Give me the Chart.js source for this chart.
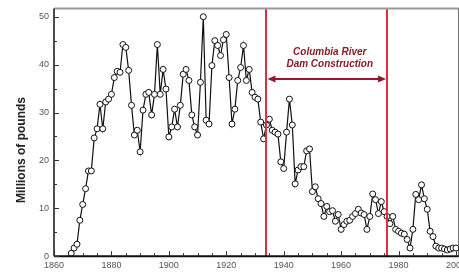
<!DOCTYPE html>
<html>
<head>
<meta charset="utf-8">
<script src="https://cdn.jsdelivr.net/npm/chart.js@4"></script>
<style>
  html, body { margin: 0; padding: 0; background: #fff; overflow: hidden; }
  #wrap { width: 470px; height: 275px; }
</style>
</head>
<body>
<div id="wrap"><canvas id="chart" width="470" height="275"></canvas></div>
<script>
// Columbia River landings, millions of pounds
const years = [
  1866, 1867, 1868, 1869, 1870, 1871, 1872, 1873, 1874, 1875,
  1876, 1877, 1878, 1879, 1880, 1881, 1882, 1883, 1884, 1885,
  1886, 1887, 1888, 1889, 1890, 1891, 1892, 1893, 1894, 1895,
  1896, 1897, 1898, 1899, 1900, 1901, 1902, 1903, 1904, 1905,
  1906, 1907, 1908, 1909, 1910, 1911, 1912, 1913, 1914, 1915,
  1916, 1917, 1918, 1919, 1920, 1921, 1922, 1923, 1924, 1925,
  1926, 1927, 1928, 1929, 1930, 1931, 1932, 1933, 1934, 1935,
  1936, 1937, 1938, 1939, 1940, 1941, 1942, 1943, 1944, 1945,
  1946, 1947, 1948, 1949, 1950, 1951, 1952, 1953, 1954, 1955,
  1956, 1957, 1958, 1959, 1960, 1961, 1962, 1963, 1964, 1965,
  1966, 1967, 1968, 1969, 1970, 1971, 1972, 1973, 1974, 1975,
  1976, 1977, 1978, 1979, 1980, 1981, 1982, 1983, 1984, 1985,
  1986, 1987, 1988, 1989, 1990, 1991, 1992, 1993, 1994, 1995,
  1996, 1997, 1998, 1999, 2000
];
const landings = [
  0.6, 1.7, 2.5, 7.5, 10.8, 14.1, 17.8, 17.8, 24.7, 26.6,
  31.7, 26.6, 32.2, 32.8, 33.8, 37.3, 38.6, 38.4, 44.2, 43.6,
  38.8, 31.5, 25.3, 26.3, 21.8, 30.5, 33.8, 34.2, 29.5, 33.8,
  44.2, 33.8, 39.0, 34.9, 24.9, 27.0, 30.7, 27.0, 31.5, 38.0,
  39.0, 36.7, 29.5, 27.0, 25.3, 36.3, 50.0, 28.4, 27.6, 39.8,
  45.0, 44.0, 41.9, 45.2, 46.3, 37.3, 27.6, 30.7, 36.7, 39.4,
  44.0, 36.7, 39.0, 34.2, 33.2, 32.8, 28.0, 24.5, 27.4, 28.6,
  26.3, 25.9, 25.5, 19.7, 18.3, 25.9, 32.8, 27.4, 15.1, 18.0,
  18.7, 18.7, 22.0, 22.4, 13.5, 14.5, 12.0, 11.0, 8.3, 10.4,
  9.3, 9.5, 7.3, 8.7, 5.6, 6.6, 7.3, 7.5, 8.3, 8.9,
  9.8, 9.0, 8.7, 5.6, 8.3, 13.0, 11.8, 8.9, 11.4, 9.3,
  8.3, 6.8, 8.3, 5.6, 5.2, 4.8, 4.6, 3.5, 1.7, 5.6,
  12.9, 11.8, 14.9, 12.0, 9.8, 5.2, 4.1, 2.1, 1.7, 1.7,
  1.5, 1.3, 1.5, 1.7, 1.7
];

const xTicks = [1860, 1880, 1900, 1920, 1940, 1960, 1980, 2000];
const yTicks = [0, 10, 20, 30, 40, 50];

// dam construction period and its label
const damYears = [1934, 1976];
const arrowLevel = 37;
const damLabel = ["Columbia River", "Dam Construction"];
const yTitle = "Millions of pounds";

const decor = {
  id: "decor",
  afterDatasetsDraw(chart) {
    const { ctx, chartArea: a, scales: { x, y } } = chart;
    ctx.save();

    // red vertical lines
    ctx.strokeStyle = "#d9303f";
    ctx.lineWidth = 2;
    damYears.forEach(yr => {
      const px = Math.round(x.getPixelForValue(yr));
      ctx.beginPath();
      ctx.moveTo(px, a.top);
      ctx.lineTo(px, a.bottom);
      ctx.stroke();
    });

    // double arrow
    const x1 = x.getPixelForValue(damYears[0]) + 1;
    const x2 = x.getPixelForValue(damYears[1]) - 1;
    const ay = y.getPixelForValue(arrowLevel);
    ctx.strokeStyle = "#9a1424";
    ctx.fillStyle = "#9a1424";
    ctx.lineWidth = 2;
    ctx.beginPath();
    ctx.moveTo(x1 + 6, ay);
    ctx.lineTo(x2 - 6, ay);
    ctx.stroke();
    ctx.beginPath();
    ctx.moveTo(x1, ay);
    ctx.lineTo(x1 + 8, ay - 3.5);
    ctx.lineTo(x1 + 8, ay + 3.5);
    ctx.closePath();
    ctx.fill();
    ctx.beginPath();
    ctx.moveTo(x2, ay);
    ctx.lineTo(x2 - 8, ay - 3.5);
    ctx.lineTo(x2 - 8, ay + 3.5);
    ctx.closePath();
    ctx.fill();

    // label
    ctx.fillStyle = "#8a1a2a";
    ctx.font = "italic bold 10px 'Liberation Sans', Arial, sans-serif";
    ctx.textAlign = "center";
    ctx.textBaseline = "middle";
    const cx = (x1 + x2) / 2 + 3;
    ctx.fillText(damLabel[0], cx, ay - 27);
    ctx.fillText(damLabel[1], cx, ay - 15);
    ctx.restore();
  },
  afterDraw(chart) {
    const { ctx, chartArea: a, scales: { x, y } } = chart;
    ctx.save();

    // frame
    ctx.strokeStyle = "#999";
    ctx.lineWidth = 2;
    ctx.beginPath();
    ctx.moveTo(a.left, a.top);
    ctx.lineTo(a.right, a.top);
    ctx.stroke();
    ctx.strokeStyle = "#333";
    ctx.lineWidth = 1;
    ctx.beginPath();
    ctx.moveTo(a.right, a.top);
    ctx.lineTo(a.right, a.bottom);
    ctx.stroke();
    ctx.strokeStyle = "#111";
    ctx.lineWidth = 1.5;
    ctx.beginPath();
    ctx.moveTo(a.left, a.top);
    ctx.lineTo(a.left, a.bottom);
    ctx.stroke();
    ctx.lineWidth = 2;
    ctx.beginPath();
    ctx.moveTo(a.left, a.bottom);
    ctx.lineTo(a.right, a.bottom);
    ctx.stroke();

    // inward ticks
    ctx.strokeStyle = "#333";
    ctx.lineWidth = 1;
    for (let v = 1860; v <= 2000; v += 5) {
      const px = Math.round(x.getPixelForValue(v)) + 0.5;
      const len = v % 20 === 0 ? 5 : 3;
      ctx.beginPath();
      ctx.moveTo(px, a.bottom);
      ctx.lineTo(px, a.bottom - len);
      ctx.stroke();
    }
    for (let v = 0; v <= 50; v += 5) {
      const py = Math.round(y.getPixelForValue(v)) + 0.5;
      const len = v % 10 === 0 ? 5 : 3;
      ctx.beginPath();
      ctx.moveTo(a.left, py);
      ctx.lineTo(a.left + len, py);
      ctx.stroke();
    }

    // y title
    ctx.fillStyle = "#222";
    ctx.font = "bold 12px 'Liberation Sans', Arial, sans-serif";
    ctx.textAlign = "center";
    ctx.textBaseline = "middle";
    ctx.translate(22, 150);
    ctx.rotate(-Math.PI / 2);
    ctx.fillText(yTitle, 0, 0);
    ctx.restore();
  }
};

const tickFont = { family: "'Liberation Sans', Arial, sans-serif", size: 9 };

new Chart(document.getElementById("chart").getContext("2d"), {
  type: "line",
  data: {
    datasets: [{
      data: years.map((yr, i) => ({ x: yr, y: landings[i] })),
      borderColor: "#111",
      borderWidth: 1.2,
      pointRadius: 3,
      pointBackgroundColor: "#fff",
      pointBorderColor: "#111",
      pointBorderWidth: 1,
      tension: 0,
      clip: false
    }]
  },
  options: {
    responsive: false,
    animation: false,
    layout: { padding: { top: 6, bottom: 0, left: 0, right: 0 } },
    plugins: { legend: { display: false }, tooltip: { enabled: false } },
    scales: {
      x: {
        type: "linear",
        min: 1860,
        max: 2001,
        afterBuildTicks: s => { s.ticks = xTicks.map(v => ({ value: v })); },
        ticks: { font: tickFont, color: "#555", padding: 4, autoSkip: false, maxRotation: 0, callback: v => String(v) },
        grid: { display: false, drawTicks: false, tickLength: 0 },
        border: { display: false }
      },
      y: {
        min: 0,
        max: 51.7,
        afterBuildTicks: s => { s.ticks = yTicks.map(v => ({ value: v })); },
        afterFit: s => { s.width = 54; },
        ticks: { font: { ...tickFont, lineHeight: 0.8 }, color: "#555", padding: 5 },
        grid: { display: false, drawTicks: false, tickLength: 0 },
        border: { display: false }
      }
    }
  },
  plugins: [decor]
});
</script>
</body>
</html>
